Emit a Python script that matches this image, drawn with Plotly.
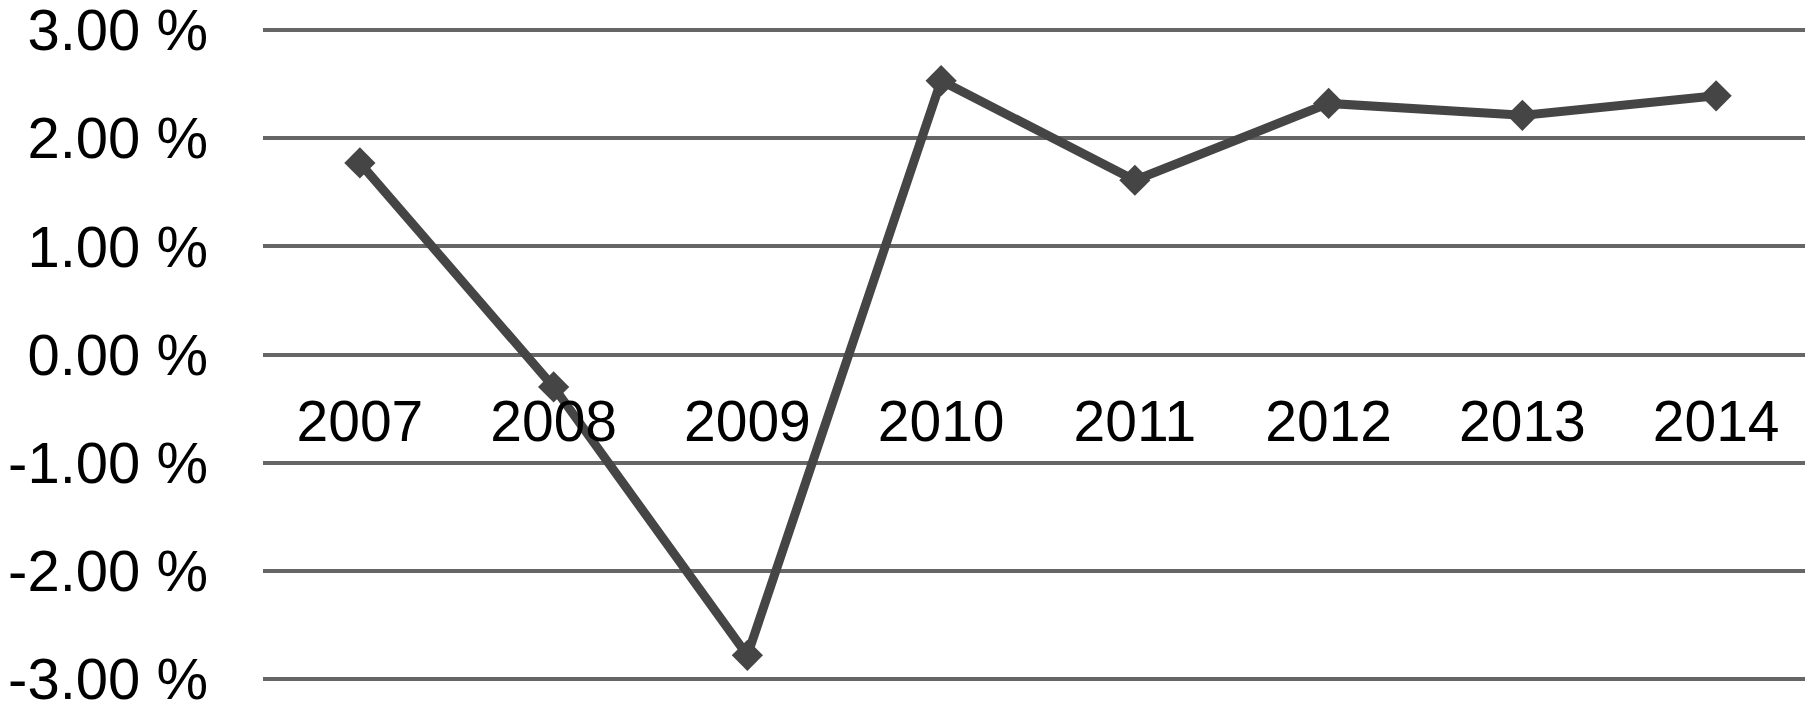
import plotly.graph_objects as go

# growth rate per year
years = ["2007", "2008", "2009", "2010", "2011", "2012", "2013", "2014"]
growth = [1.77, -0.30, -2.78, 2.53, 1.61, 2.32, 2.21, 2.39]

y_ticks = [-3, -2, -1, 0, 1, 2, 3]
y_tick_labels = ["-3.00 %", "-2.00 %", "-1.00 %", "0.00 %", "1.00 %", "2.00 %", "3.00 %"]

font = "Liberation Sans, Arial, sans-serif"
grid_col = "#666666"

fig = go.Figure()
fig.add_trace(go.Scatter(
    x=years,
    y=growth,
    mode="lines+markers",
    line=dict(color="#454545", width=9),
    marker=dict(symbol="diamond", size=24, color="#454545"),
    showlegend=False,
))

fig.update_layout(
    width=1813,
    height=703,
    paper_bgcolor="white",
    plot_bgcolor="white",
    #page body pushes the figure down 8px, so top/bottom are trimmed
    margin=dict(l=255, r=8, t=11, b=21),
    font=dict(family=font, size=58, color="black"),
    #x labels sit just under the zero line, like the spreadsheet chart
    xaxis=dict(
        type="category",
        range=[-0.5, 7.5],
        anchor="free",
        position=0.5,
        automargin=False,
        showgrid=False,
        showline=False,
        zeroline=False,
        ticks="",
        ticklabelstandoff=28,
        tickfont=dict(family=font, size=57, color="black"),
    ),
    yaxis=dict(
        range=[-3.1, 3.1],
        tickvals=y_ticks,
        ticktext=y_tick_labels,
        automargin=False,
        showgrid=True,
        gridcolor=grid_col,
        gridwidth=4,
        zeroline=True,
        zerolinecolor=grid_col,
        zerolinewidth=4,
        showline=False,
        ticks="",
        ticklabelstandoff=54,
        ticklabeloverflow="allow",
        tickfont=dict(family=font, size=58, color="black"),
    ),
)

fig.write_html("out.html")
